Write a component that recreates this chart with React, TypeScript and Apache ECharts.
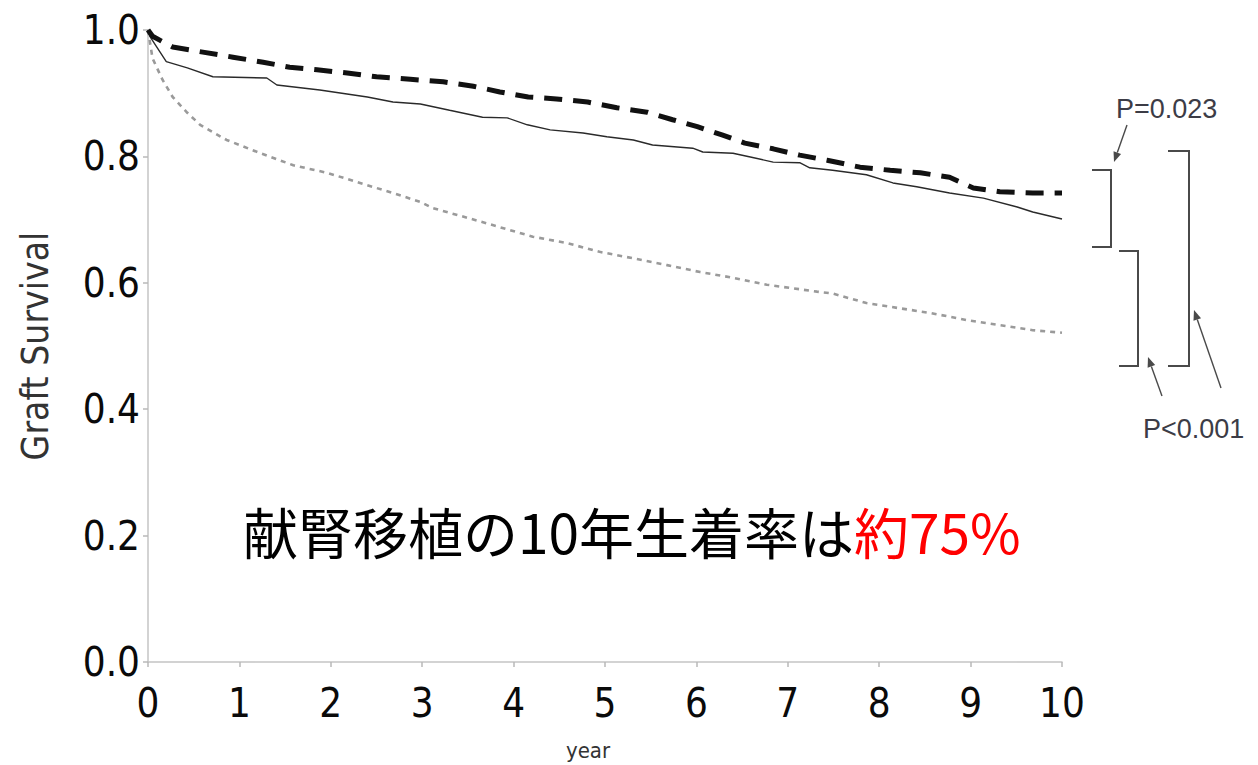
import React, { useEffect, useRef } from "react";
import * as echarts from "echarts";

// Kaplan–Meier style graft survival curves, [year, survival]
const dashedCurve: [number, number][] = [
  [0, 1.0], [0.05, 0.99], [0.27, 0.973], [0.6, 0.965], [0.93, 0.957], [1.26, 0.949],
  [1.55, 0.941], [1.85, 0.937], [2.18, 0.932], [2.5, 0.926], [2.87, 0.922], [3.23, 0.918],
  [3.56, 0.911], [3.85, 0.902], [4.16, 0.894], [4.47, 0.891], [4.81, 0.886], [5.13, 0.877],
  [5.46, 0.87], [5.74, 0.858], [6.01, 0.847], [6.28, 0.834], [6.53, 0.821], [6.84, 0.812],
  [7.13, 0.802], [7.43, 0.794], [7.79, 0.783], [8.12, 0.778], [8.45, 0.774], [8.77, 0.767],
  [9.03, 0.75], [9.32, 0.744], [9.68, 0.742], [10, 0.742],
];

const solidCurve: [number, number][] = [
  [0, 1.0], [0.02, 0.99], [0.2, 0.95], [0.43, 0.94], [0.71, 0.926], [1.3, 0.924],
  [1.41, 0.913], [1.88, 0.905], [2.4, 0.894], [2.68, 0.886], [2.98, 0.883], [3.3, 0.873],
  [3.66, 0.862], [3.93, 0.861], [4.15, 0.85], [4.4, 0.842], [4.76, 0.837], [5.02, 0.831],
  [5.31, 0.826], [5.52, 0.818], [5.96, 0.813], [6.07, 0.807], [6.4, 0.805], [6.59, 0.799],
  [6.84, 0.791], [7.13, 0.79], [7.24, 0.782], [7.49, 0.778], [7.86, 0.771], [8.15, 0.758],
  [8.41, 0.752], [8.77, 0.742], [9.14, 0.734], [9.51, 0.72], [9.68, 0.712], [10, 0.701],
];

const dottedCurve: [number, number][] = [
  [0, 1.0], [0.05, 0.955], [0.16, 0.921], [0.27, 0.894], [0.43, 0.869], [0.57, 0.85],
  [0.86, 0.826], [1.23, 0.805], [1.59, 0.786], [1.96, 0.774], [2.32, 0.758], [2.68, 0.742],
  [2.98, 0.728], [3.12, 0.718], [3.49, 0.703], [3.85, 0.688], [4.21, 0.673], [4.58, 0.663],
  [4.94, 0.649], [5.3, 0.639], [5.68, 0.628], [6.04, 0.617], [6.4, 0.608], [6.77, 0.597],
  [7.32, 0.586], [7.49, 0.583], [7.86, 0.568], [8.21, 0.56], [8.57, 0.552], [8.96, 0.541],
  [9.32, 0.533], [9.68, 0.525], [10, 0.521],
];

const yAxisTitle = "Graft Survival";
const xAxisTitle = "year";
const pLabels = ["P=0.023", "P<0.001"];
const headline = "献腎移植の10年生着率は";
const headlineEmphasis = "約75%";

const annotationColor = "#4a4a4a";

// Straight arrow with a filled head at (x2, y2)
function arrow(x1: number, y1: number, x2: number, y2: number) {
  const dx = x2 - x1;
  const dy = y2 - y1;
  const len = Math.sqrt(dx * dx + dy * dy);
  const ux = dx / len;
  const uy = dy / len;
  const head = 10;
  const half = 4;
  const bx = x2 - ux * head;
  const by = y2 - uy * head;
  return [
    {
      type: "line",
      shape: { x1, y1, x2: bx, y2: by },
      style: { stroke: annotationColor, lineWidth: 1.4 },
    },
    {
      type: "polygon",
      shape: {
        points: [
          [x2, y2],
          [bx - uy * half, by + ux * half],
          [bx + uy * half, by - ux * half],
        ],
      },
      style: { fill: annotationColor },
    },
  ];
}

function bracket(xl: number, xr: number, yt: number, yb: number) {
  return {
    type: "polyline",
    shape: { points: [[xl, yt], [xr, yt], [xr, yb], [xl, yb]] },
    style: { stroke: annotationColor, lineWidth: 2, fill: null },
  };
}

export default function App() {
  const ref = useRef<HTMLDivElement>(null);

  useEffect(() => {
    if (!ref.current) return;
    const chart = echarts.init(ref.current, null, { renderer: "svg" });
    const axisFont = "DejaVu Sans Condensed, DejaVu Sans, sans-serif";
    const cjkFont = "Noto Sans CJK JP, sans-serif";

    chart.setOption({
      animation: false,
      backgroundColor: "#ffffff",
      grid: {
        left: 148,
        right: 196,
        top: 30,
        bottom: 103,
        containLabel: false,
        outerBoundsMode: "none",
      },
      xAxis: {
        type: "value",
        min: 0,
        max: 10,
        interval: 1,
        name: xAxisTitle,
        nameLocation: "middle",
        nameGap: 77,
        nameTextStyle: {
          fontFamily: axisFont,
          fontSize: 22,
          color: "#333",
          padding: [0, 34, 0, 0],
        },
        axisLine: { lineStyle: { color: "#c4c4c4", width: 1.5 } },
        axisTick: { show: true, length: 5, lineStyle: { color: "#b8b8b8", width: 1.5 } },
        axisLabel: {
          fontFamily: axisFont,
          fontSize: 40,
          color: "#0a0a0a",
          margin: 21,
        },
        splitLine: { show: false },
      },
      yAxis: {
        type: "value",
        min: 0,
        max: 1,
        interval: 0.2,
        name: yAxisTitle,
        nameLocation: "middle",
        nameGap: 94,
        nameTextStyle: { fontFamily: axisFont, fontSize: 37, color: "#333" },
        axisLine: { show: true, lineStyle: { color: "#c4c4c4", width: 1.5 } },
        axisTick: { show: true, length: 5, lineStyle: { color: "#b8b8b8", width: 1.5 } },
        axisLabel: {
          fontFamily: axisFont,
          fontSize: 40,
          color: "#0a0a0a",
          margin: 8,
          formatter: (v: number) => v.toFixed(1),
        },
        splitLine: { show: false },
      },
      series: [
        {
          type: "line",
          data: dottedCurve,
          showSymbol: false,
          lineStyle: { color: "#9a9a9a", width: 2.6, type: [5, 5] },
        },
        {
          type: "line",
          data: solidCurve,
          showSymbol: false,
          lineStyle: { color: "#2a2a2a", width: 1.4 },
        },
        {
          type: "line",
          data: dashedCurve,
          showSymbol: false,
          lineStyle: { color: "#111", width: 5, type: [18, 11] },
        },
      ],
      graphic: [
        bracket(1092, 1111, 170, 247),
        bracket(1119, 1138, 251, 366),
        bracket(1168, 1189, 151, 366),
        ...arrow(1127, 125, 1114, 162),
        ...arrow(1162, 396, 1148, 357),
        ...arrow(1221, 388, 1194, 310),
        {
          type: "text",
          x: 1116,
          y: 109,
          style: {
            text: pLabels[0],
            fontFamily: "Liberation Sans, Arial, sans-serif",
            fontSize: 27,
            fill: "#3c3c46",
            textVerticalAlign: "middle",
          },
        },
        {
          type: "text",
          x: 1143,
          y: 429,
          style: {
            text: pLabels[1],
            fontFamily: "Liberation Sans, Arial, sans-serif",
            fontSize: 27,
            fill: "#3c3c46",
            textVerticalAlign: "middle",
          },
        },
        {
          type: "text",
          x: 243,
          y: 530,
          style: {
            text: `{a|${headline}}{b|${headlineEmphasis}}`,
            textVerticalAlign: "middle",
            rich: {
              a: { fontFamily: cjkFont, fontSize: 55, fill: "#000000" },
              b: { fontFamily: cjkFont, fontSize: 55, fill: "#ff0000" },
            },
          },
        },
      ],
    });

    return () => chart.dispose();
  }, []);

  return (
    <div
      ref={ref}
      style={{ position: "fixed", left: 0, top: 0, width: 1258, height: 765, background: "#fff" }}
    />
  );
}
